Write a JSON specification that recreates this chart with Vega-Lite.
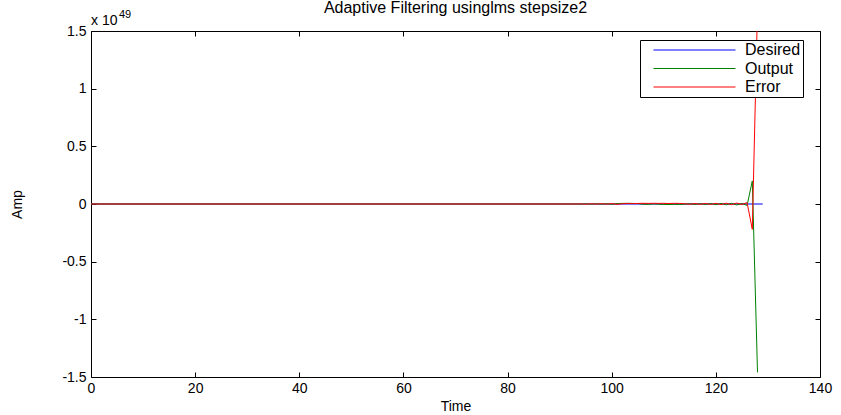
{
  "$schema": "https://vega.github.io/schema/vega-lite/v6.json",
  "width": 729,
  "height": 346,
  "autosize": {"type": "none"},
  "padding": {"left": 91, "top": 31, "right": 21, "bottom": 38},
  "background": "white",
  "title": {"text": "Adaptive Filtering usinglms stepsize2", "font": "Liberation Sans", "fontSize": 16, "fontWeight": "normal", "color": "black", "anchor": "middle", "offset": -7},
  "config": {
    "view": {"stroke": "black", "strokeWidth": 1},
    "axis": {"grid": false, "domain": false, "ticks": true, "tickColor": "black", "tickWidth": 1, "labelColor": "black", "titleColor": "black", "labelFont": "Liberation Sans", "titleFont": "Liberation Sans", "labelFontSize": 14, "titleFontSize": 14, "titleFontWeight": "normal", "tickSize": 5, "offset": -5}
  },
  "resolve": {"axis": {"x": "independent", "y": "independent"}},
  "datasets": {
    "lines": [
      {"t": 0, "series": "Desired", "amp": 0},
      {"t": 129, "series": "Desired", "amp": 0},
      {"t": 0, "series": "Output", "amp": 0},
      {"t": 93, "series": "Output", "amp": 0},
      {"t": 94, "series": "Output", "amp": -0.001},
      {"t": 95, "series": "Output", "amp": 0.002},
      {"t": 96, "series": "Output", "amp": -0.001},
      {"t": 97, "series": "Output", "amp": 0.002},
      {"t": 98, "series": "Output", "amp": -0.002},
      {"t": 99, "series": "Output", "amp": 0.003},
      {"t": 100, "series": "Output", "amp": -0.003},
      {"t": 101, "series": "Output", "amp": 0.004},
      {"t": 102, "series": "Output", "amp": 0.005},
      {"t": 103, "series": "Output", "amp": 0.006},
      {"t": 104, "series": "Output", "amp": 0.005},
      {"t": 105, "series": "Output", "amp": 0.004},
      {"t": 106, "series": "Output", "amp": -0.002},
      {"t": 107, "series": "Output", "amp": -0.003},
      {"t": 108, "series": "Output", "amp": 0.001},
      {"t": 109, "series": "Output", "amp": -0.002},
      {"t": 110, "series": "Output", "amp": -0.004},
      {"t": 111, "series": "Output", "amp": -0.005},
      {"t": 112, "series": "Output", "amp": -0.003},
      {"t": 113, "series": "Output", "amp": -0.004},
      {"t": 114, "series": "Output", "amp": -0.002},
      {"t": 115, "series": "Output", "amp": 0.003},
      {"t": 116, "series": "Output", "amp": -0.004},
      {"t": 117, "series": "Output", "amp": 0.004},
      {"t": 118, "series": "Output", "amp": -0.005},
      {"t": 119, "series": "Output", "amp": 0.005},
      {"t": 120, "series": "Output", "amp": -0.006},
      {"t": 121, "series": "Output", "amp": 0.005},
      {"t": 122, "series": "Output", "amp": -0.007},
      {"t": 123, "series": "Output", "amp": 0.006},
      {"t": 124, "series": "Output", "amp": -0.008},
      {"t": 125, "series": "Output", "amp": 0.004},
      {"t": 126, "series": "Output", "amp": -0.012},
      {"t": 127, "series": "Output", "amp": 0.2},
      {"t": 128, "series": "Output", "amp": -1.46},
      {"t": 0, "series": "Error", "amp": 0},
      {"t": 93, "series": "Error", "amp": 0},
      {"t": 94, "series": "Error", "amp": 0.001},
      {"t": 95, "series": "Error", "amp": -0.002},
      {"t": 96, "series": "Error", "amp": 0.002},
      {"t": 97, "series": "Error", "amp": -0.001},
      {"t": 98, "series": "Error", "amp": 0.003},
      {"t": 99, "series": "Error", "amp": -0.002},
      {"t": 100, "series": "Error", "amp": 0.004},
      {"t": 101, "series": "Error", "amp": -0.003},
      {"t": 102, "series": "Error", "amp": 0.002},
      {"t": 103, "series": "Error", "amp": 0.004},
      {"t": 104, "series": "Error", "amp": 0.003},
      {"t": 105, "series": "Error", "amp": 0.005},
      {"t": 106, "series": "Error", "amp": 0.006},
      {"t": 107, "series": "Error", "amp": 0.005},
      {"t": 108, "series": "Error", "amp": 0.006},
      {"t": 109, "series": "Error", "amp": 0.005},
      {"t": 110, "series": "Error", "amp": 0.006},
      {"t": 111, "series": "Error", "amp": 0.004},
      {"t": 112, "series": "Error", "amp": 0.006},
      {"t": 113, "series": "Error", "amp": 0.005},
      {"t": 114, "series": "Error", "amp": 0.003},
      {"t": 115, "series": "Error", "amp": -0.002},
      {"t": 116, "series": "Error", "amp": 0.004},
      {"t": 117, "series": "Error", "amp": -0.003},
      {"t": 118, "series": "Error", "amp": 0.005},
      {"t": 119, "series": "Error", "amp": -0.004},
      {"t": 120, "series": "Error", "amp": 0.006},
      {"t": 121, "series": "Error", "amp": -0.005},
      {"t": 122, "series": "Error", "amp": 0.007},
      {"t": 123, "series": "Error", "amp": -0.006},
      {"t": 124, "series": "Error", "amp": 0.008},
      {"t": 125, "series": "Error", "amp": -0.004},
      {"t": 126, "series": "Error", "amp": 0.012},
      {"t": 127, "series": "Error", "amp": -0.22},
      {"t": 128, "series": "Error", "amp": 1.7}
    ]
  },
  "layer": [
    {
      "data": {"name": "lines"},
      "mark": {"type": "line", "strokeWidth": 1, "clip": true},
      "encoding": {
        "x": {"field": "t", "type": "quantitative", "scale": {"domain": [0, 140], "nice": false, "zero": false},
              "axis": {"orient": "bottom", "values": [0, 20, 40, 60, 80, 100, 120, 140], "labelPadding": 4, "title": "Time", "titleX": 364.5, "titleY": 34, "titleBaseline": "middle", "titleAlign": "center", "labelFlush": false}},
        "y": {"field": "amp", "type": "quantitative", "scale": {"domain": [-1.5, 1.5], "nice": false, "zero": false},
              "axis": {"orient": "left", "values": [-1.5, -1, -0.5, 0, 0.5, 1, 1.5], "labelExpr": "toString(datum.value)", "labelPadding": 5, "title": "Amp", "titleX": -79, "titleY": 173, "titleBaseline": "middle", "titleAlign": "center", "titleAngle": -90, "labelFlush": false}},
        "color": {"field": "series", "type": "nominal",
                  "scale": {"domain": ["Desired", "Output", "Error"], "range": ["#0000FF", "#008000", "#FF0000"]},
                  "legend": {"orient": "none", "legendX": 549, "legendY": 9, "title": null, "symbolType": "M0.467,0H11.4", "symbolSize": 225, "symbolStrokeWidth": 1, "labelFont": "Liberation Sans", "labelFontSize": 16, "labelColor": "black", "labelOffset": 87, "strokeColor": "black", "fillColor": "white", "padding": 2, "rowPadding": 2.5}}
      }
    },
    {
      "data": {"values": [{"label": "x 10"}]},
      "mark": {"type": "text", "font": "Liberation Sans", "fontSize": 14, "align": "left", "baseline": "alphabetic", "dy": -6, "color": "black"},
      "encoding": {
        "x": {"datum": 0, "type": "quantitative", "axis": {"orient": "top", "values": [0, 20, 40, 60, 80, 100, 120, 140], "labels": false, "title": null}},
        "y": {"datum": 1.5, "type": "quantitative", "axis": {"orient": "right", "values": [-1.5, -1, -0.5, 0, 0.5, 1, 1.5], "labels": false, "title": null}},
        "text": {"field": "label"}
      }
    },
    {
      "data": {"values": [{"label": "49"}]},
      "mark": {"type": "text", "font": "Liberation Sans", "fontSize": 11, "align": "left", "baseline": "alphabetic", "dx": 28, "dy": -13, "color": "black"},
      "encoding": {
        "x": {"datum": 0, "type": "quantitative", "axis": null},
        "y": {"datum": 1.5, "type": "quantitative", "axis": null},
        "text": {"field": "label"}
      }
    }
  ]
}
